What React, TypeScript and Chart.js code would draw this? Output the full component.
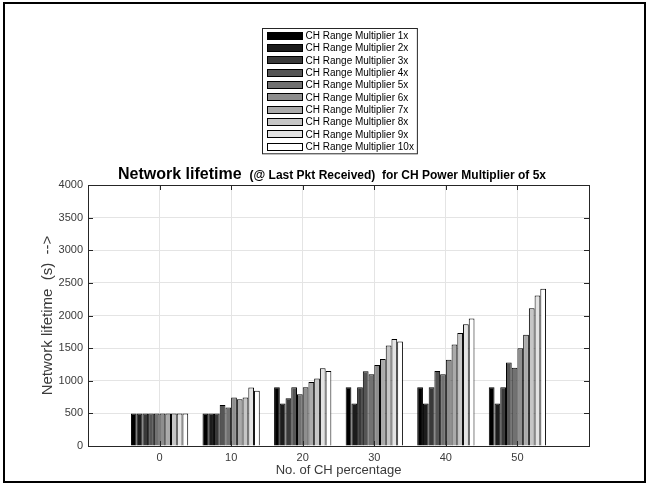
import React, { useEffect, useRef } from 'react';
import { Chart, registerables } from 'chart.js';

Chart.register(...registerables);

// ---- data ----
const categories = ['0', '10', '20', '30', '40', '50'];
const seriesLabels = [
  'CH Range Multiplier 1x',
  'CH Range Multiplier 2x',
  'CH Range Multiplier 3x',
  'CH Range Multiplier 4x',
  'CH Range Multiplier 5x',
  'CH Range Multiplier 6x',
  'CH Range Multiplier 7x',
  'CH Range Multiplier 8x',
  'CH Range Multiplier 9x',
  'CH Range Multiplier 10x',
];
const range1x = [500, 500, 900, 900, 900, 900];
const range2x = [500, 500, 650, 650, 650, 650];
const range3x = [500, 500, 730, 900, 900, 900];
const range4x = [500, 630, 900, 1145, 1150, 1280];
const range5x = [500, 590, 795, 1100, 1100, 1200];
const range6x = [500, 745, 900, 1240, 1320, 1500];
const range7x = [500, 715, 980, 1335, 1555, 1705];
const range8x = [500, 745, 1035, 1540, 1730, 2110];
const range9x = [500, 895, 1190, 1640, 1865, 2305];
const range10x = [500, 845, 1150, 1600, 1955, 2410];
const yTicks = [0, 500, 1000, 1500, 2000, 2500, 3000, 3500, 4000];

const titleMain = 'Network lifetime';
const titleSub = '(@ Last Pkt Received)  for CH Power Multiplier of 5x';
const xTitle = 'No. of CH percentage';
const yTitle = 'Network lifetime  (s)  -->';

const allSeries = [range1x, range2x, range3x, range4x, range5x, range6x, range7x, range8x, range9x, range10x];
const grays = allSeries.map((_, i) => {
  const g = Math.round((i / 9) * 255);
  return `rgb(${g},${g},${g})`;
});

const FONT = 'Arial, "Liberation Sans", sans-serif';

const decorPlugin = {
  id: 'decor',
  afterDraw(chart: any) {
    const ctx = chart.ctx as CanvasRenderingContext2D;
    const area = chart.chartArea;
    ctx.save();

    // outer frame
    ctx.strokeStyle = '#000';
    ctx.lineWidth = 2;
    ctx.strokeRect(4, 3, 641, 479);

    // axes box
    ctx.lineWidth = 1;
    ctx.strokeStyle = '#262626';
    ctx.strokeRect(Math.round(area.left) + 0.5, Math.round(area.top) + 0.5,
      Math.round(area.right - area.left), Math.round(area.bottom - area.top));

    // inward ticks
    const xs = chart.scales.x;
    for (let i = 1; i <= categories.length; i++) {
      const px = Math.round(xs.getPixelForValue(i)) + 0.5;
      ctx.beginPath();
      ctx.moveTo(px, area.top);
      ctx.lineTo(px, area.top + 5);
      ctx.moveTo(px, area.bottom);
      ctx.lineTo(px, area.bottom - 5);
      ctx.stroke();
    }
    const ys = chart.scales.y;
    yTicks.forEach((v) => {
      const py = Math.round(ys.getPixelForValue(v)) + 0.5;
      ctx.beginPath();
      ctx.moveTo(area.right, py);
      ctx.lineTo(area.right - 5, py);
      ctx.moveTo(area.left, py);
      ctx.lineTo(area.left + 5, py);
      ctx.stroke();
    });

    // title
    ctx.fillStyle = '#000';
    ctx.textBaseline = 'alphabetic';
    ctx.textAlign = 'left';
    const f1 = `bold 16px ${FONT}`;
    const f2 = `bold 12px ${FONT}`;
    ctx.font = f1;
    const w1 = ctx.measureText(titleMain).width;
    ctx.font = f2;
    const gap = 8;
    const w2 = ctx.measureText(titleSub).width;
    const cx = 332;
    const tx = cx - (w1 + gap + w2) / 2;
    ctx.font = f1;
    ctx.fillText(titleMain, tx, 179);
    ctx.font = f2;
    ctx.fillText(titleSub, tx + w1 + gap, 179);

    // legend
    ctx.font = `10px ${FONT}`;
    const lx = 262;
    const ly = 28;
    const rowH = 12.33;
    let maxW = 0;
    seriesLabels.forEach((l) => { maxW = Math.max(maxW, ctx.measureText(l).width); });
    const boxW = 305.5 - lx + maxW + 3;
    const boxH = rowH * seriesLabels.length + 2;
    ctx.fillStyle = '#fff';
    ctx.fillRect(lx, ly, boxW, boxH);
    ctx.strokeStyle = '#262626';
    ctx.lineWidth = 1;
    ctx.strokeRect(lx + 0.5, ly + 0.5, boxW, boxH);
    seriesLabels.forEach((l, i) => {
      const cy = ly + 7.7 + i * rowH;
      ctx.fillStyle = grays[i];
      ctx.fillRect(267, Math.round(cy - 4), 36, 8);
      ctx.strokeStyle = '#000';
      ctx.strokeRect(267.5, Math.round(cy - 4) + 0.5, 35, 7);
      ctx.fillStyle = '#000';
      ctx.textBaseline = 'middle';
      ctx.fillText(l, 305.5, cy + 0.5);
    });

    ctx.restore();
  },
};

export default function App() {
  const ref = useRef<HTMLCanvasElement | null>(null);

  useEffect(() => {
    document.body.style.margin = '0';
    const canvas = ref.current;
    if (!canvas) return;
    const labels = ['', ...categories, ''];
    const chart = new Chart(canvas, {
      type: 'bar',
      data: {
        labels,
        datasets: allSeries.map((s, i) => ({
          label: seriesLabels[i],
          data: [null, ...s, null] as any,
          backgroundColor: grays[i],
          borderColor: '#000',
          borderWidth: 1,
          categoryPercentage: 0.8,
          barPercentage: 1.0,
        })),
      },
      options: {
        responsive: false,
        animation: false,
        devicePixelRatio: 1,
        layout: { padding: { top: 185, right: 60, bottom: 0, left: 0 } },
        plugins: {
          legend: { display: false },
          title: { display: false },
          tooltip: { enabled: false },
        },
        scales: {
          x: {
            type: 'category',
            offset: false,
            grid: { offset: false, color: '#e4e4e4', drawTicks: false },
            border: { display: true, color: '#262626' },
            ticks: {
              autoSkip: false,
              maxRotation: 0,
              padding: 5,
              color: '#3a3a3a',
              font: { family: FONT, size: 11 },
              callback: (_v: any, i: number) => labels[i],
            },
            title: {
              display: true,
              text: xTitle,
              color: '#3a3a3a',
              font: { family: FONT, size: 13 },
              padding: { top: 0, bottom: 6 },
            },
            afterFit: (s: any) => { s.height = 38; },
          },
          y: {
            min: 0,
            max: 4000,
            grid: { color: '#e4e4e4', drawTicks: false },
            border: { display: true, color: '#262626' },
            ticks: {
              stepSize: 500,
              padding: 5,
              color: '#3a3a3a',
              font: { family: FONT, size: 11 },
              callback: (v: any) => String(v),
            },
            title: {
              display: true,
              text: yTitle,
              color: '#3a3a3a',
              font: { family: FONT, size: 15 },
              padding: { top: 39, bottom: 0 },
            },
            afterFit: (s: any) => { s.width = 88; },
          },
        },
      },
      plugins: [decorPlugin],
    });
    return () => chart.destroy();
  }, []);

  return (
    <canvas
      ref={ref}
      width={649}
      height={484}
      style={{ display: 'block', width: 649, height: 484 }}
    />
  );
}
